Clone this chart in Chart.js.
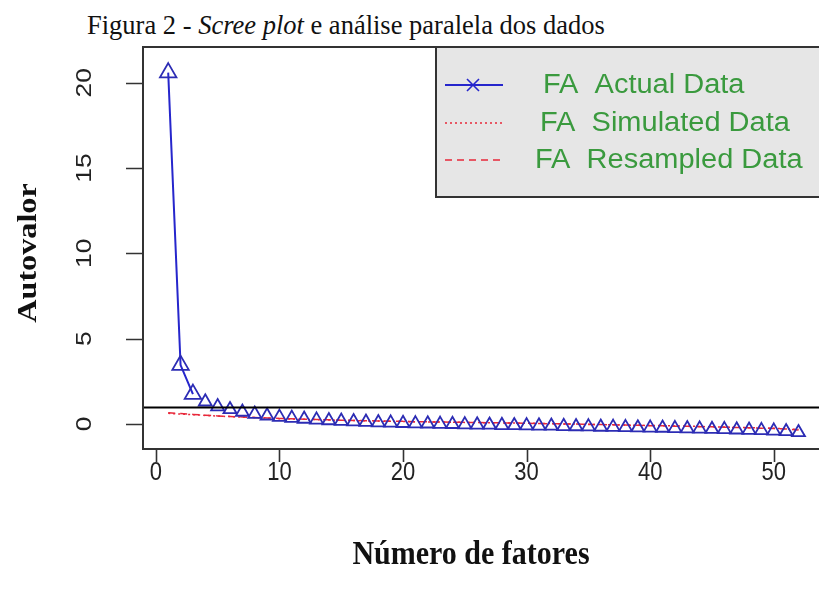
<!DOCTYPE html>
<html>
<head>
<meta charset="utf-8">
<script src="https://cdn.jsdelivr.net/npm/chart.js@4"></script>
<style>
  body { margin: 0; background: #fff; overflow: hidden; }
  .wrap { position: relative; width: 819px; height: 599px; overflow: hidden; }
  .titulo {
    position: absolute; left: 87px; top: 9px;
    font-family: "Liberation Serif", serif; font-size: 26.5px; color: #111;
    white-space: nowrap; transform-origin: left top; transform: scaleY(1.05);
  }
  canvas { position: absolute; left: 0; top: 0; }
</style>
</head>
<body>
<div class="wrap">
  <div class="titulo">Figura 2 - <i>Scree plot</i> e análise paralela dos dados</div>
  <canvas id="grafico" width="835" height="599"></canvas>
</div>
<script>
// dados (autovalores por fator)
const fatores = [];
for (let i = 1; i <= 52; i++) fatores.push(i);

const autovaloresReais = [
  20.6, 3.45, 1.75, 1.3, 1.02, 0.85, 0.7, 0.58, 0.48, 0.4,
  0.34, 0.29, 0.24, 0.2, 0.17, 0.14, 0.11, 0.08, 0.06, 0.04,
  0.02, 0.01, -0.01, -0.02, -0.04, -0.05, -0.06, -0.08, -0.09, -0.1,
  -0.11, -0.12, -0.14, -0.15, -0.16, -0.18, -0.19, -0.2, -0.22, -0.23,
  -0.24, -0.26, -0.27, -0.29, -0.31, -0.32, -0.34, -0.36, -0.38, -0.41,
  -0.44, -0.5
];

const autovaloresSimulados = [
  0.62, 0.58, 0.54, 0.5, 0.46, 0.43, 0.4, 0.37, 0.34, 0.31,
  0.29, 0.27, 0.25, 0.23, 0.21, 0.2, 0.18, 0.17, 0.15, 0.14,
  0.13, 0.12, 0.11, 0.1, 0.09, 0.08, 0.07, 0.06, 0.05, 0.04,
  0.03, 0.02, 0.0, -0.01, -0.02, -0.04, -0.05, -0.06, -0.08, -0.09,
  -0.1, -0.12, -0.13, -0.15, -0.17, -0.18, -0.2, -0.22, -0.24, -0.26,
  -0.29, -0.33
];

const autovaloresReamostrados = [
  0.65, 0.61, 0.56, 0.51, 0.47, 0.44, 0.41, 0.38, 0.35, 0.32,
  0.3, 0.28, 0.26, 0.24, 0.22, 0.2, 0.19, 0.17, 0.16, 0.15,
  0.13, 0.12, 0.11, 0.1, 0.09, 0.08, 0.07, 0.06, 0.05, 0.04,
  0.02, 0.01, 0.0, -0.01, -0.03, -0.04, -0.05, -0.07, -0.08, -0.1,
  -0.11, -0.13, -0.14, -0.16, -0.17, -0.19, -0.21, -0.23, -0.25, -0.27,
  -0.3, -0.35
];

const xTicks = [0, 10, 20, 30, 40, 50];
const yTicks = [0, 5, 10, 15, 20];
const linhaKaiser = 1;

const legendas = ["FA  Actual Data", "FA  Simulated Data", "FA  Resampled Data"];

const AZUL = "#2626cc";
const VERMELHO = "#e8283a";
const VERDE = "#3a9a3e";
const CAIXA = "#333333";

function pontos(valores) {
  return fatores.map((f, i) => ({ x: f, y: valores[i] }));
}

// texto com esticamento (a figura original está um pouco distorcida)
function texto(ctx, str, x, y, font, opts) {
  const o = Object.assign({ sx: 1, sy: 1, rot: 0, align: "center", color: "#111" }, opts);
  ctx.save();
  ctx.translate(x, y);
  ctx.rotate(o.rot);
  ctx.scale(o.sx, o.sy);
  ctx.font = font;
  ctx.fillStyle = o.color;
  ctx.textAlign = o.align;
  ctx.textBaseline = "middle";
  ctx.fillText(str, 0, 0);
  ctx.restore();
}

const eixosR = {
  id: "eixosR",
  afterDatasetsDraw(chart) {
    const { ctx, chartArea: a, scales } = chart;
    const x = scales.x, y = scales.y;

    // linha de Kaiser (autovalor = 1)
    ctx.save();
    ctx.strokeStyle = "#000";
    ctx.lineWidth = 2;
    ctx.beginPath();
    const yk = Math.round(y.getPixelForValue(linhaKaiser)) + 0.5;
    ctx.moveTo(a.left, yk);
    ctx.lineTo(a.right, yk);
    ctx.stroke();

    // caixa
    ctx.strokeStyle = CAIXA;
    ctx.lineWidth = 2;
    ctx.strokeRect(a.left, a.top, a.right - a.left, a.bottom - a.top);

    // marcas
    ctx.lineWidth = 1.6;
    ctx.beginPath();
    xTicks.forEach(v => {
      const px = Math.round(x.getPixelForValue(v)) + 0.5;
      ctx.moveTo(px, a.bottom);
      ctx.lineTo(px, a.bottom + 13);
    });
    yTicks.forEach(v => {
      const py = Math.round(y.getPixelForValue(v)) + 0.5;
      ctx.moveTo(a.left, py);
      ctx.lineTo(a.left - 17, py);
    });
    ctx.stroke();
    ctx.restore();

    const fTick = "22px 'Liberation Sans', Arial, sans-serif";
    xTicks.forEach(v => {
      texto(ctx, String(v), x.getPixelForValue(v), a.bottom + 24, fTick, { sy: 1.2, color: "#222" });
    });
    yTicks.forEach(v => {
      texto(ctx, String(v), a.left - 58, y.getPixelForValue(v), fTick, { rot: -Math.PI / 2, sx: 1.2, color: "#222" });
    });

    texto(ctx, "Número de fatores", 471, 555, "bold 30px 'Liberation Serif', 'Times New Roman', serif", { sy: 1.12, color: "#111" });
    texto(ctx, "Autovalor", 29, 253, "bold 28px 'Liberation Serif', 'Times New Roman', serif", { rot: -Math.PI / 2, sx: 1.15, color: "#111" });
  },
  afterDraw(chart) {
    const { ctx } = chart;
    // legenda no estilo do R
    const bx = 436, by = 47, bw = 420, bh = 150;
    ctx.save();
    ctx.fillStyle = "#e6e6e6";
    ctx.fillRect(bx, by, bw, bh);
    ctx.strokeStyle = CAIXA;
    ctx.lineWidth = 2;
    ctx.strokeRect(bx, by, bw, bh);

    const linhasY = [85, 123, 160];
    const estilos = [[], [2, 3], [7, 5]];
    const cores = [AZUL, VERMELHO, VERMELHO];
    linhasY.forEach((ly, i) => {
      ctx.strokeStyle = cores[i];
      ctx.lineWidth = i === 0 ? 2 : 1.5;
      ctx.setLineDash(estilos[i]);
      ctx.beginPath();
      ctx.moveTo(445, ly);
      ctx.lineTo(503, ly);
      ctx.stroke();
    });
    ctx.setLineDash([]);
    // marcador "x"
    ctx.strokeStyle = AZUL;
    ctx.lineWidth = 1.6;
    ctx.beginPath();
    ctx.moveTo(467, 79); ctx.lineTo(479, 91);
    ctx.moveTo(479, 79); ctx.lineTo(467, 91);
    ctx.stroke();
    ctx.restore();

    const fLeg = "29px 'Liberation Sans', Arial, sans-serif";
    const legX = [543, 540, 535];
    legendas.forEach((t, i) => {
      texto(ctx, t, legX[i], linhasY[i], fLeg, { align: "left", color: VERDE, sy: 0.98 });
    });
  }
};

new Chart(document.getElementById("grafico"), {
  type: "line",
  data: {
    datasets: [
      {
        label: legendas[0],
        data: pontos(autovaloresReais),
        borderColor: AZUL,
        borderWidth: 2,
        pointStyle: "triangle",
        pointRadius: (c) => (c.dataIndex < 3 ? 9.5 : 7.5),
        pointBorderColor: "#2c2cb4",
        pointBackgroundColor: "rgba(0,0,0,0)",
        pointBorderWidth: 1.8,
        segment: {
          // como type = "b" do R: segmentos curtos ficam escondidos
          borderColor: (c) =>
            Math.hypot(c.p1.x - c.p0.x, c.p1.y - c.p0.y) < 24 ? "rgba(0,0,0,0)" : undefined,
        },
        order: 1,
      },
      {
        label: legendas[1],
        data: pontos(autovaloresSimulados),
        borderColor: VERMELHO,
        borderWidth: 1.5,
        borderDash: [2, 3],
        pointRadius: 0,
        order: 2,
      },
      {
        label: legendas[2],
        data: pontos(autovaloresReamostrados),
        borderColor: VERMELHO,
        borderWidth: 1.5,
        borderDash: [7, 5],
        pointRadius: 0,
        order: 3,
      },
    ],
  },
  options: {
    responsive: false,
    animation: false,
    layout: { padding: { left: 143, top: 47, right: 8, bottom: 150 } },
    plugins: {
      legend: { display: false },
      tooltip: { enabled: false },
    },
    scales: {
      x: { type: "linear", min: -1.04, max: 54.04, display: false },
      y: { min: -1.47, max: 22.1, display: false },
    },
  },
  plugins: [eixosR],
});
</script>
</body>
</html>
